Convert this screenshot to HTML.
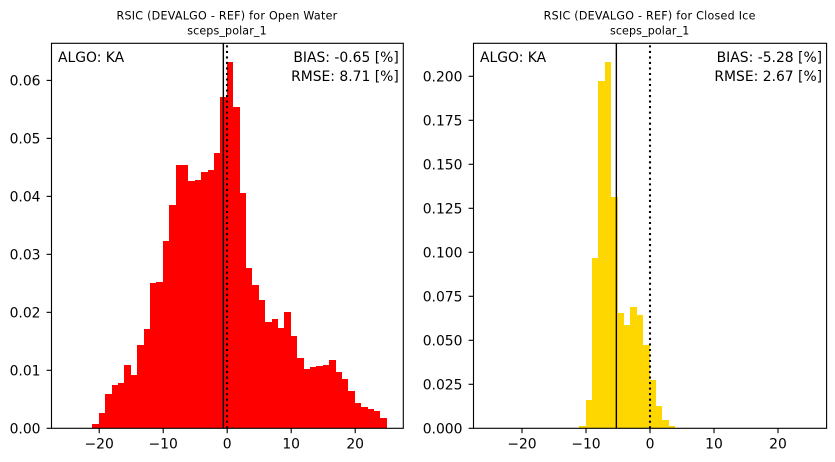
<!DOCTYPE html>
<html>
<head>
<meta charset="utf-8">
<style>
html,body{margin:0;padding:0;background:#fff;width:835px;height:462px;overflow:hidden}
svg{display:block;font-family:"DejaVu Sans","Liberation Sans",sans-serif}
</style>
</head>
<body>
<svg id="fig" xmlns="http://www.w3.org/2000/svg" width="835" height="462" viewBox="0 0 835 462"></svg>
<script>
const binStartsOpenWater = [-21,-20,-19,-18,-17,-16,-15,-14,-13,-12,-11,-10,-9,-8,-7,-6,-5,-4,-3,-2,-1,0,1,2,3,4,5,6,7,8,9,10,11,12,13,14,15,16,17,18,19,20,21,22,23,24];
const valuesOpenWater = [.00074,.00264,.00592,.00747,.00781,.01092,.00919,.01437,.01713,.02506,.02523,.0323,.03846,.04536,.04536,.0426,.04277,.04415,.0445,.04743,.05709,.06313,.05536,.04053,.0276,.02466,.02208,.01828,.0188,.01725,.02001,.01587,.01207,.01018,.01052,.01069,.01087,.01173,.00966,.00845,.00638,.00431,.00362,.00328,.00293,.00172];
const binStartsClosedIce = [-11,-10,-9,-8,-7,-6,-5,-4,-3,-2,-1,0,1,2,3];
const valuesClosedIce = [.0011,.0159,.0966,.1972,.208,.1313,.0653,.0585,.0688,.0642,.0472,.0273,.0125,.0045,.0011];
const xTickValues = [-20,-10,0,10,20];
const yTicksOpenWater = [0,.01,.02,.03,.04,.05,.06];
const yTickLabelsOpenWater = ['0.00','0.01','0.02','0.03','0.04','0.05','0.06'];
const yTicksClosedIce = [0,.025,.05,.075,.1,.125,.15,.175,.2];
const yTickLabelsClosedIce = ['0.000','0.025','0.050','0.075','0.100','0.125','0.150','0.175','0.200'];
const biasOpenWater = -0.65;
const biasClosedIce = -5.28;

const NS = 'http://www.w3.org/2000/svg';
const fig = document.getElementById('fig');

function mk(parent, tag, attrs, text) {
  const el = document.createElementNS(NS, tag);
  for (const k in attrs) el.setAttribute(k, attrs[k]);
  if (text !== undefined) el.textContent = text;
  parent.appendChild(el);
  return el;
}

function panel(cfg) {
  const L = cfg.left, R = cfg.right, T = 43.3, B = 428.3;
  const sx = v => cfg.zeroX + v * 6.4;
  const barX = v => cfg.barZeroX + v * 6.4;
  const sy = v => B - (v / cfg.yMax) * (B - T);

  const g = mk(fig, 'g', {});
  
  

  const t1 = mk(g, 'text', {x: cfg.titleX, y: 19.5, 'text-anchor': 'middle', 'font-size': 11.1, 'letter-spacing': 0.26, fill: '#000'}, cfg.title);
  
  
  const t2 = mk(g, 'text', {x: cfg.titleX, y: 34.5, 'text-anchor': 'middle', 'font-size': 11.1, 'letter-spacing': 0.12, fill: '#000'}, 'sceps_polar_1');
  
  

  cfg.bins.forEach((b, i) => {
    const x0 = Math.round(barX(b)), x1 = Math.round(barX(b + 1));
    const y0 = Math.round(sy(cfg.values[i]));
    const r = mk(g, 'rect', {x: x0, y: y0, width: x1 - x0, height: Math.round(B) - y0, fill: cfg.color, 'shape-rendering': 'crispEdges'});
    
    
  });

  const bx = Math.round(sx(cfg.bias)) + 0.35;
  const bl = mk(g, 'line', {x1: bx, x2: bx, y1: T, y2: B, stroke: '#000', 'stroke-width': 1.4});
  
  
  const zx = Math.round(sx(0));
  const zl = mk(g, 'line', {x1: zx, x2: zx, y1: B, y2: T, stroke: '#000', 'stroke-width': 2.08, 'stroke-dasharray': '2.08 3.44'});
  
  

  const fr = mk(g, 'rect', {x: L, y: T, width: R - L, height: B - T, fill: 'none', stroke: '#000', 'stroke-width': 1.11});
  
  

  xTickValues.forEach(v => {
    const tk = mk(g, 'line', {x1: sx(v), x2: sx(v), y1: B, y2: B + 4.9, stroke: '#000', 'stroke-width': 1.11});
    
    
    const lb = mk(g, 'text', {x: sx(v), y: B + 20.2, 'text-anchor': 'middle', 'font-size': 13.9, fill: '#000'}, v < 0 ? '\u2212' + (-v) : String(v));
    
    
  });

  cfg.yTicks.forEach((v, i) => {
    const tk = mk(g, 'line', {x1: L - 4.9, x2: L, y1: sy(v), y2: sy(v), stroke: '#000', 'stroke-width': 1.11});
    
    
    const lb = mk(g, 'text', {x: L - 11, y: sy(v) + 5.2, 'text-anchor': 'end', 'font-size': 13.9, fill: '#000'}, cfg.yLabels[i]);
    
    
  });

  const a = mk(g, 'text', {x: L + 6.5, y: 62, 'font-size': 13.9, fill: '#000'}, 'ALGO: KA');
  
  
  const b1 = mk(g, 'text', {x: R - 4.5, y: 62, 'text-anchor': 'end', 'font-size': 13.9, fill: '#000'}, cfg.biasText);
  
  
  const b2 = mk(g, 'text', {x: R - 4.5, y: 81, 'text-anchor': 'end', 'font-size': 13.9, fill: '#000'}, cfg.rmseText);
  
  
}

panel({name: 'open-water', left: 51.5, right: 403.3, zeroX: 227.2, barZeroX: 226.8, titleX: 227, yMax: 0.0664,
  title: 'RSIC (DEVALGO - REF) for Open Water', bins: binStartsOpenWater, values: valuesOpenWater,
  color: '#ff0000', bias: biasOpenWater, yTicks: yTicksOpenWater, yLabels: yTickLabelsOpenWater,
  biasText: 'BIAS: -0.65 [%]', rmseText: 'RMSE: 8.71 [%]'});
panel({name: 'closed-ice', left: 473.5, right: 826.6, zeroX: 650, barZeroX: 649.6, titleX: 649.7, yMax: 0.21875,
  title: 'RSIC (DEVALGO - REF) for Closed Ice', bins: binStartsClosedIce, values: valuesClosedIce,
  color: '#ffd700', bias: biasClosedIce, yTicks: yTicksClosedIce, yLabels: yTickLabelsClosedIce,
  biasText: 'BIAS: -5.28 [%]', rmseText: 'RMSE: 2.67 [%]'});
</script>
</body>
</html>
